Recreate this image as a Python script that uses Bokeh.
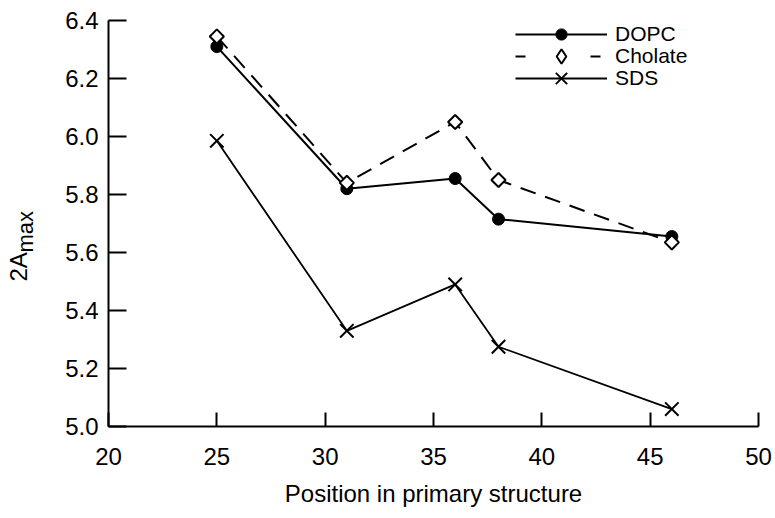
import math

from bokeh.embed import file_html
from bokeh.models import (ColumnDataSource, FixedTicker, Label, Legend,
                          LegendItem, PrintfTickFormatter, Range1d)
from bokeh.plotting import figure
from bokeh.resources import INLINE

# Residue positions along the primary structure
positions = [25, 31, 36, 38, 46]

# 2A_max values for each environment
dopc = [6.31, 5.82, 5.855, 5.715, 5.655]
cholate = [6.345, 5.84, 6.05, 5.85, 5.635]
sds = [5.985, 5.33, 5.49, 5.275, 5.06]

x_ticks = [20, 25, 30, 35, 40, 45, 50]
y_ticks = [5.0, 5.2, 5.4, 5.6, 5.8, 6.0, 6.2, 6.4]

FONT = "Liberation Sans"
INK = "black"

src = ColumnDataSource(data=dict(x=positions, dopc=dopc, cholate=cholate, sds=sds))

p = figure(
    frame_width=650, frame_height=406,
    x_range=Range1d(x_ticks[0], x_ticks[-1]),
    y_range=Range1d(y_ticks[0], y_ticks[-1]),
    min_border_left=108, min_border_right=17,
    min_border_top=20, min_border_bottom=92,
    output_backend="svg", toolbar_location=None,
)
p.outline_line_color = None
p.xgrid.visible = False
p.ygrid.visible = False
p.background_fill_color = "white"
p.border_fill_color = "white"

# Axes: ticks point inward, no minor ticks
for ax in (p.xaxis[0], p.yaxis[0]):
    ax.axis_line_color = INK
    ax.axis_line_width = 2
    ax.major_tick_line_color = INK
    ax.major_tick_line_width = 2
    ax.major_tick_out = 0
    ax.minor_tick_line_color = None
    ax.major_label_text_font = FONT
    ax.major_label_text_font_size = "24px"
    ax.major_label_text_color = INK

p.xaxis.ticker = FixedTicker(ticks=x_ticks)
p.xaxis.major_tick_in = 14
p.xaxis.major_label_standoff = 21
p.xaxis.axis_label = "Position in primary structure"
p.xaxis.axis_label_text_font = FONT
p.xaxis.axis_label_text_font_size = "24px"
p.xaxis.axis_label_text_font_style = "normal"
p.xaxis.axis_label_text_color = INK
p.xaxis.axis_label_standoff = 12

p.yaxis.ticker = FixedTicker(ticks=y_ticks)
p.yaxis.formatter = PrintfTickFormatter(format="%.1f")
p.yaxis.major_tick_in = 18
p.yaxis.major_label_standoff = 10

# Series
l_dopc = p.line("x", "dopc", source=src, line_color=INK, line_width=2)
m_dopc = p.scatter("x", "dopc", source=src, marker="circle", size=12,
                   fill_color=INK, line_color=INK)

l_chol = p.line("x", "cholate", source=src, line_color=INK, line_width=2,
                line_dash="16 10")
m_chol = p.scatter("x", "cholate", source=src, marker="square", angle=math.pi / 4,
                   size=10, fill_color="white", line_color=INK, line_width=2)

l_sds = p.line("x", "sds", source=src, line_color=INK, line_width=1.8)
m_sds = p.scatter("x", "sds", source=src, marker="x", size=19,
                  line_color=INK, line_width=2)

# Legend-only keys for the dashed series (no visible points in the plot):
# a short dash at each end of the key and a diamond in the middle
nan = float("nan")
key_src = ColumnDataSource(data=dict(x=[nan], y=[nan]))
key_chol_line = p.line("x", "y", source=key_src, line_color=INK, line_width=2,
                       line_dash="10 65")
key_chol_mark = p.scatter("x", "y", source=key_src, marker="diamond", size=16,
                          fill_color="white", line_color=INK, line_width=2)

# One legend per row so each row sits at its own height; the key height
# also sets the size of the marker drawn in the key
rows = [
    ("DOPC", [l_dopc, m_dopc], 34, 28),
    ("Cholate", [key_chol_line, key_chol_mark], 56, 36),
    ("SDS", [l_sds, m_sds], 78, 40),
]
for text, rends, center, glyph_h in rows:
    lg = Legend(
        items=[LegendItem(label=text, renderers=rends)],
        location=(407, 406 + 20 - center - glyph_h // 2),
        padding=0, margin=0, spacing=0,
        border_line_color=None, background_fill_alpha=0,
        glyph_width=92, glyph_height=glyph_h, label_height=20,
        label_standoff=8,
        label_text_font=FONT, label_text_font_size="21px",
        label_text_color=INK,
    )
    p.add_layout(lg)

# Y axis title: 2A with subscript "max", drawn in the left side panel
p.add_layout(Label(x=15.85, y=5.50, text="2A",
                   angle=math.pi / 2, text_align="left", text_baseline="alphabetic",
                   text_font=FONT, text_font_size="24px", text_color=INK), "left")
p.add_layout(Label(x=16.17, y=5.60, text="max",
                   angle=math.pi / 2, text_align="left", text_baseline="alphabetic",
                   text_font=FONT, text_font_size="22px", text_color=INK), "left")

open("out.html", "w").write(file_html(p, INLINE))
